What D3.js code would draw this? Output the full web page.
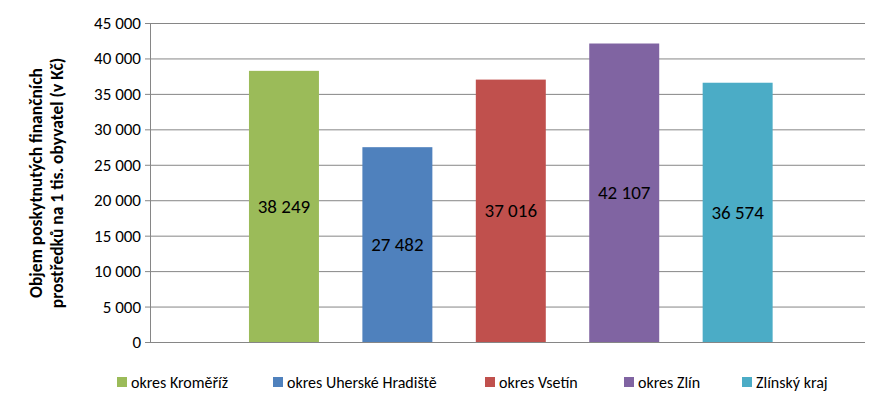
<!DOCTYPE html><html><head><meta charset="utf-8"><script src="https://cdn.jsdelivr.net/npm/d3@7"></script>
<style>body{margin:0;background:#fff}text{font-family:Calibri,Carlito,Lato,sans-serif}</style></head><body>
<svg id="c" width="886" height="413"></svg>
<script>
const categories=["okres Kroměříž","okres Uherské Hradiště","okres Vsetín","okres Zlín","Zlínský kraj"];
const values=[38249,27482,37016,42107,36574];
const colors=["#9BBB59","#4F81BD","#C0504D","#8064A2","#4BACC6"];
const yTicks=[0,5000,10000,15000,20000,25000,30000,35000,40000,45000];
const svg=d3.select("#c");
const L=150,R=865,T=23,B=342;
const y=d3.scaleLinear().domain([0,45000]).range([B,T]);
const x=d3.scaleBand().domain(categories).range([227.3,794.3]).paddingInner(0.383).paddingOuter(0.191);
const fmt=v=>d3.format(",")(v).replace(/,/g," ");
svg.append("g").selectAll("line").data(yTicks).join("line").attr("x1",L).attr("x2",R)
 .attr("y1",d=>y(d)+0.5).attr("y2",d=>y(d)+0.5).attr("stroke","#868686");
svg.append("line").attr("x1",L+0.5).attr("x2",L+0.5).attr("y1",T).attr("y2",B).attr("stroke","#868686");
svg.append("g").selectAll("line").data(yTicks).join("line").attr("x1",L-5).attr("x2",L).attr("y1",d=>y(d)+0.5).attr("y2",d=>y(d)+0.5).attr("stroke","#868686");
svg.append("g").selectAll("text").data(yTicks).join("text").attr("x",L-9).attr("y",d=>y(d)).attr("dy","0.35em")
 .attr("text-anchor","end").attr("font-size",17).text(fmt);
svg.append("g").selectAll("rect").data(values).join("rect").attr("x",(d,i)=>x(categories[i])).attr("width",x.bandwidth())
 .attr("y",d=>y(d)).attr("height",d=>B-y(d)).attr("fill",(d,i)=>colors[i]);
svg.append("g").selectAll("text").data(values).join("text").attr("x",(d,i)=>x(categories[i])+x.bandwidth()/2)
 .attr("y",d=>y(d/2)).attr("dy","0.35em").attr("text-anchor","middle").attr("font-size",19).text(fmt);
const t=svg.append("text").attr("transform","translate(52,183) rotate(-90)").attr("text-anchor","middle").attr("font-weight","bold").attr("font-size",17.5);
t.append("tspan").attr("x",0).attr("dy","-0.6em").text("Objem poskytnutých finančních");
t.append("tspan").attr("x",0).attr("dy","1.2em").text("prostředků na 1 tis. obyvatel (v Kč)");
const lx=[117,273,485,624,742];
const lg=svg.append("g").selectAll("g").data(categories).join("g").attr("transform",(d,i)=>`translate(${lx[i]},382)`);
lg.append("rect").attr("x",0).attr("y",-5).attr("width",10).attr("height",10).attr("fill",(d,i)=>colors[i]);
lg.append("text").attr("x",14).attr("dy","0.35em").attr("font-size",16).text(d=>d);
</script></body></html>
